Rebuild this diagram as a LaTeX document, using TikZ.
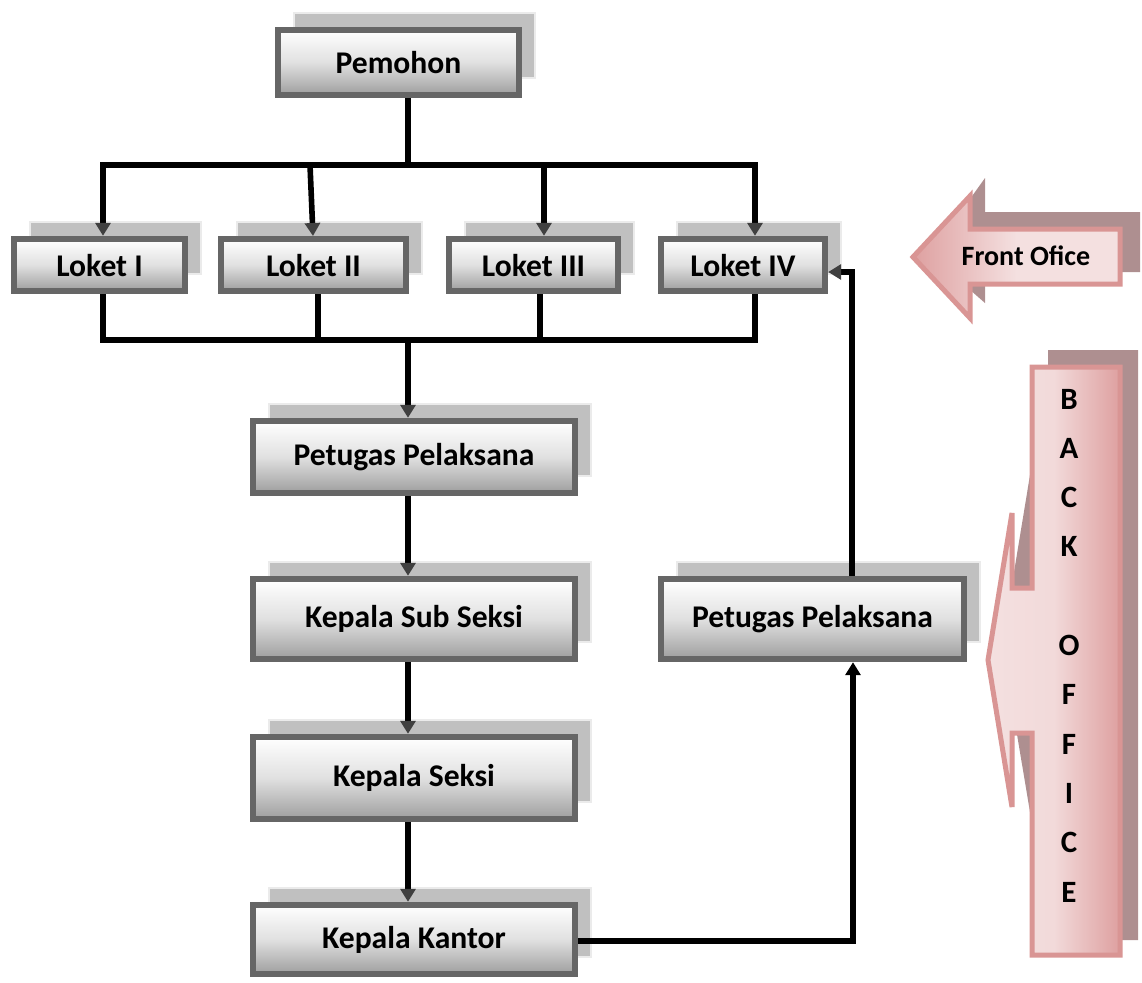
\documentclass[tikz,border=0pt]{standalone}
\usepackage{fontspec}
\setmainfont{Carlito}
\usetikzlibrary{arrows.meta,shadows}
\definecolor{boxborder}{RGB}{102,102,102}
\definecolor{shadowgray}{RGB}{192,192,192}
\definecolor{tipgray}{RGB}{64,64,64}
\definecolor{pinkborder}{RGB}{217,149,148}
\definecolor{pinklight}{RGB}{244,224,224}
\definecolor{pinkdark}{RGB}{222,160,160}
\definecolor{mauve}{RGB}{174,143,144}
\tikzset{
  box/.style={draw=boxborder, line width=3.2pt, top color=white, bottom color=black!38,
    middle color=black!12, inner sep=0pt, font=\fontsize{15.8}{18}\selectfont\bfseries,
    copy shadow={shadow xshift=8pt, shadow yshift=8.5pt, fill=shadowgray, draw=black!8, line width=0.6pt}},
  conn/.style={line width=2.8pt, black},
  arr/.style={conn, -{Triangle[width=7.5pt,length=6.5pt,color=tipgray]}},
  arrb/.style={conn, -{Triangle[width=7.5pt,length=6.5pt,color=black]}},
  vletter/.style={font=\fontsize{15.5}{18}\selectfont\bfseries, inner sep=0pt}
}
\begin{document}
\begin{tikzpicture}[x=0.5pt,y=-0.5pt]
\useasboundingbox (0,0) rectangle (1142,982);

% Front Office arrow
\fill[mauve] (930,255) -- (985,178) -- (985,212) -- (1140,212) -- (1140,272) -- (985,272) -- (985,303) -- cycle;
\draw[pinkborder, line width=2.5pt, left color=pinkdark, right color=pinklight, middle color=pinklight]
  (913,257) -- (970,196) -- (970,229) -- (1120,229) -- (1120,284) -- (970,284) -- (970,318) -- cycle;
\node[font=\fontsize{14}{17}\selectfont\bfseries] (fo) at (1026,256) {Front Ofice};

% Back Office callout
\fill[mauve] (1048,350) -- (1138,350) -- (1138,940) -- (1048,940) -- (1048,733) -- (1030,733) -- (1030,812) -- (1002,645) -- (1030,475) -- (1030,575) -- (1048,575) -- cycle;
\draw[pinkborder, line width=2.5pt, left color=pinklight, right color=pinkdark, middle color=pinklight!90!pinkdark]
  (1032,367) -- (1120,367) -- (1120,955) -- (1032,955) -- (1032,733) -- (1012,733) -- (1012,807) -- (988,660) -- (1012,513) -- (1012,588) -- (1032,588) -- cycle;
\foreach \l [count=\i from 0] in {B,A,C,K,,O,F,F,I,C,E}{
  \node[vletter] (bo\i) at (1069,{399+49.3*\i}) {\l};
}

% boxes
\node[box, minimum width=120.5pt, minimum height=32.5pt] (pem) at (398.5,62.5) {Pemohon};
\node[box, minimum width=85.5pt, minimum height=26pt, text depth=-2pt] (l1) at (99.5,265) {Loket I};
\node[box, minimum width=92.5pt, minimum height=26pt, text depth=-2pt] (l2) at (313.5,265) {Loket II};
\node[box, minimum width=84.5pt, minimum height=26pt, text depth=-2pt] (l3) at (533.5,265) {Loket III};
\node[box, minimum width=82pt, minimum height=26pt, text depth=-2pt] (l4) at (743,265) {Loket IV};
\node[box, minimum width=161pt, minimum height=36pt] (pp) at (414,457) {\raisebox{2pt}{Petugas Pelaksana}};
\node[box, minimum width=161pt, minimum height=40pt] (kss) at (414,619) {\raisebox{2pt}{Kepala Sub Seksi}};
\node[box, minimum width=161pt, minimum height=41pt] (ks) at (414,778) {\raisebox{2pt}{Kepala Seksi}};
\node[box, minimum width=161pt, minimum height=34.5pt] (kk) at (414,939.5) {Kepala Kantor};
\node[box, minimum width=151.5pt, minimum height=40pt] (pr) at (812.5,619) {\raisebox{3pt}{Petugas Pelaksana}};

% connector points
\coordinate (t0) at (408,165);
\coordinate (t1) at (103,165);
\coordinate (t2) at (310,165);
\coordinate (t3) at (544,165);
\coordinate (t4) at (755,165);
\coordinate (b1) at (103,340);
\coordinate (b2) at (318,340);
\coordinate (b3) at (540,340);
\coordinate (b4) at (755,340);
\coordinate (b0) at (408,340);
\coordinate (rc) at (853,941);
\coordinate (ru) at (852,272);

% top distribution
\draw[conn] (pem.south -| t0) -- (t0);
\draw[conn, line cap=rect] (t1) -- (t4);
\draw[arr] (t1) -- (l1.north -| t1);
\draw[arr] (t2) -- (313,236);
\draw[arr] (t3) -- (l3.north -| t3);
\draw[arr] (t4) -- (l4.north -| t4);
% bottom collection
\draw[conn] (l1.south -| b1) -- (b1);
\draw[conn] (l2.south -| b2) -- (b2);
\draw[conn] (l3.south -| b3) -- (b3);
\draw[conn] (l4.south -| b4) -- (b4);
\draw[conn, line cap=rect] (b1) -- (b4);
\draw[arr] (b0) -- (pp.north -| b0);
% chain
\draw[arr] (pp.south -| b0) -- (kss.north -| b0);
\draw[arr] (kss.south -| b0) -- (ks.north -| b0);
\draw[arr] (ks.south -| b0) -- (kk.north -| b0);
% return path
\draw[arrb] (kk.east |- rc) -- (rc) -- (pr.south -| rc);
\draw[arr] (pr.north -| ru) -- (ru) -- (l4.east |- ru);
\end{tikzpicture}
\end{document}
